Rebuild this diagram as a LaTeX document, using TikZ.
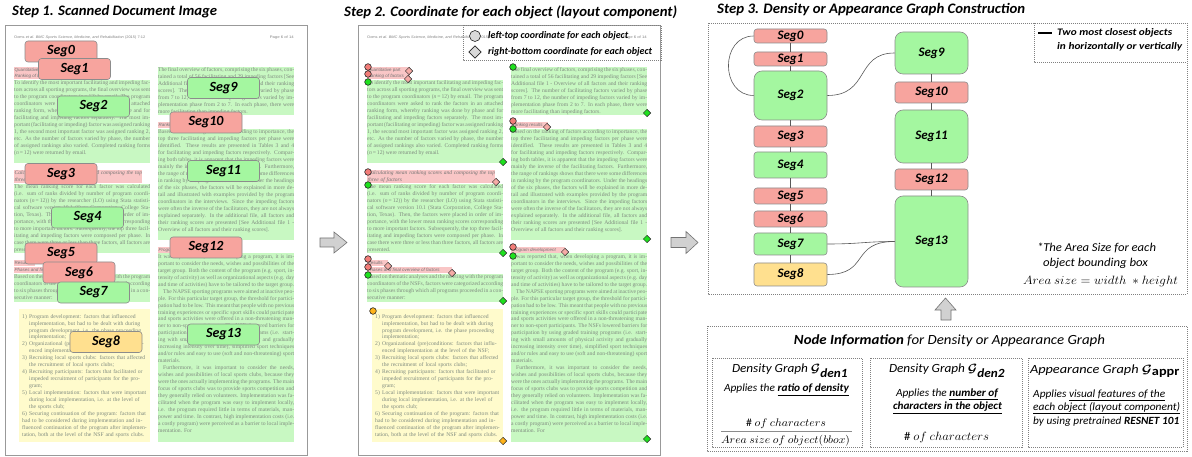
\documentclass[tikz,border=0pt]{standalone}
\usepackage{fontspec}
\setmainfont{Carlito}
\newfontfamily\docfont{Liberation Serif}
\newfontfamily\hdrfont{Liberation Sans}
\usetikzlibrary{shapes.geometric}
\definecolor{segpink}{HTML}{F7A49E}
\definecolor{seggreen}{HTML}{A4F7A0}
\definecolor{segyellow}{HTML}{FFE08F}
\definecolor{segborder}{HTML}{8C8C8C}
\definecolor{dgreen}{HTML}{C8F8C2}
\definecolor{dpink}{HTML}{F9C6C6}
\definecolor{dyellow}{HTML}{FFFBCC}
\definecolor{doctxt}{HTML}{7F8A7F}
\definecolor{mpink}{HTML}{F27C78}
\definecolor{mpinkl}{HTML}{F6ABA6}
\definecolor{mgreen}{HTML}{1FE01F}
\definecolor{morange}{HTML}{FFB31A}
\definecolor{mgray}{HTML}{D9D9D9}
\tolerance=9999
\emergencystretch=4pt
\hbadness=10000
\hfuzz=20pt
\newcommand\fitw[2]{\resizebox{#1}{\height}{#2}}

\newcommand\txtA{To identify the most important facilitating and impeding factors across all sporting programs, the final overview was sent to the program coordinators (\textit{n}\,=\,12) by email. The program coordinators were asked to rank the factors in an attached ranking form, whereby ranking was done by phase and for facilitating and impeding factors separately. The most important (facilitating or impeding) factor was assigned ranking 1, the second most important factor was assigned ranking 2, etc. As the number of factors varied by phase, the number of assigned rankings also varied. Completed ranking forms (\textit{n}\,=\,12) were returned by email.}
\newcommand\txtB{The mean ranking score for each factor was calculated (i.e. sum of ranks divided by number of program coordinators (\textit{n}\,=\,12)) by the researcher (LO) using Stata statistical software version 10.1 (Stata Corporation, College Station, Texas). Then, the factors were placed in order of importance, with the lower mean ranking scores corresponding to more important factors. Subsequently, the top three facilitating and impeding factors were composed per phase. In case there were three or less than three factors, all factors are presented.}
\newcommand\txtC{Based on thematic analyses and the meeting with the program coordinators of the NSFs, factors were categorized according to six phases through which all programs proceeded in a consecutive manner:}
\newcommand\litem[2]{\par\hangindent=7pt\hangafter=1\noindent\makebox[7pt][l]{#1}#2}
\newcommand\txtD{%
\litem{1)}{Program development: factors that influenced implementation, but had to be dealt with during program development, i.e. the phase proceeding implementation;}%
\litem{2)}{Organizational (pre)conditions: factors that influenced implementation at the level of the NSF;}%
\litem{3)}{Recruiting local sports clubs: factors that affected the recruitment of local sports clubs;}%
\litem{4)}{Recruiting participants: factors that facilitated or impeded recruitment of participants for the program;}%
\litem{5)}{Local implementation: factors that were important during local implementation, i.e. at the level of the sports club;}%
\litem{6)}{Securing continuation of the program: factors that had to be considered during implementation and influenced continuation of the program after implementation, both at the level of the NSF and sports clubs.}}
\newcommand\txtE{The final overview of factors, comprising the six phases, contained a total of 56 facilitating and 29 impeding factors [See Additional file 1 - Overview of all factors and their ranking scores]. The number of facilitating factors varied by phase from 7 to 12, the number of impeding factors varied by implementation phase from 2 to 7. In each phase, there were more facilitating than impeding factors.}
\newcommand\txtF{Based on the ranking of factors according to importance, the top three facilitating and impeding factors per phase were identified. These results are presented in Tables 3 and 4 for facilitating and impeding factors respectively. Comparing both tables, it is apparent that the impeding factors were mainly the inverse of the facilitating factors. Furthermore, the range of rankings shows that there were some differences in ranking by the program coordinators. Under the headings of the six phases, the factors will be explained in more detail and illustrated with examples provided by the program coordinators in the interviews. Since the impeding factors were often the inverse of the facilitators, they are not always explained separately. In the additional file, all factors and their ranking scores are presented [See Additional file 1 - Overview of all factors and their ranking scores].}
\newcommand\txtG{It was reported that, when developing a program, it is important to consider the needs, wishes and possibilities of the target group. Both the content of the program (e.g. sport, intensity of activity) as well as organizational aspects (e.g. day and time of activities) have to be tailored to the target group.\par
\hspace*{5pt}The NAPSE sporting programs were aimed at inactive people. For this particular target group, the threshold for participation had to be low. This meant that people with no previous training experiences or specific sport skills could participate and sports activities were offered in a non-threatening manner to non-sport participants. The NSFs lowered barriers for participation by using graded training programs (i.e. starting with small amounts of physical activity and gradually increasing intensity over time), simplified sport techniques and/or rules and easy to use (soft and non-threatening) sport materials.\par
\hspace*{5pt}Furthermore, it was important to consider the needs, wishes and possibilities of local sports clubs, because they were the ones actually implementing the programs. The main focus of sports clubs was to provide sports competition and they generally relied on volunteers. Implementation was facilitated when the program was easy to implement locally, i.e. the program required little in terms of materials, manpower and time. In contrast, high implementation costs (i.e. a costly program) were perceived as a barrier to local implementation. For}

\newcommand\docpage{%
 \draw[docframe] (5,25) rectangle (307,455.5);
 \node[hdr, anchor=west] (hdrL) at (14,37.5) {\fitw{131pt}{Ooms \textit{et al. BMC Sports Science, Medicine, and Rehabilitation} (2015) 7:12}};
 \node[hdr, anchor=east] (hdrR) at (294,37.5) {\fitw{24pt}{Page 6 of 14}};
 \fill[dpink] (14,67) rectangle (57,79);
 \fill[dgreen] (14,80) rectangle (150,163.5);
 \fill[dpink] (14,170) rectangle (142,183);
 \fill[dgreen] (14,184) rectangle (150,253);
 \fill[dpink] (14,260) rectangle (35,266);
 \fill[dpink] (14,267) rectangle (99,273);
 \fill[dgreen] (14,274) rectangle (150,302);
 \fill[dyellow] (19,309) rectangle (150,442);
 \fill[dgreen] (158,67) rectangle (294,115);
 \fill[dpink] (158,122) rectangle (195,128);
 \fill[dgreen] (158,129) rectangle (294,240);
 \fill[dpink] (158,247) rectangle (212,253);
 \fill[dgreen] (158,253.5) rectangle (294,442);
 \node[dhead] (hQ) at (14.5,67.6) {Quantitative part};
 \node[dhead] (hR) at (14.5,73.6) {\itshape Ranking of factors};
 \node[dhead, text width=128pt, font=\docfont\itshape\fontsize{5.5}{6.5}\selectfont] (hC) at (14.5,170.5) {Calculating mean ranking scores and composing the top three of factors};
 \node[dhead] (hS) at (14.5,260.6) {Results};
 \node[dhead] (hP) at (14.5,267.6) {\itshape Phases and final overview of factors};
 \node[dhead] (hRR) at (158.5,122.6) {\itshape Ranking results};
 \node[dhead] (hPD) at (158.5,247.6) {\itshape Program development};
 \node[doctext] (pA) at (14,80.8) {\txtA};
 \node[doctext] (pB) at (14,184.8) {\txtB};
 \node[doctext] (pC) at (14,274.8) {\txtC};
 \node[doctext, text width=125pt, align=left] (pD) at (22,311) {\txtD};
 \node[doctext] (pE) at (158,67.8) {\txtE};
 \node[doctext] (pF) at (158,129.8) {\txtF};
 \node[doctext] (pG) at (158,254.3) {\txtG};
}

\begin{document}
\begin{tikzpicture}[x=1pt,y=-1pt,
  docframe/.style={draw=black!40, line width=0.8pt},
  dotbox/.style={draw=black!50, line width=0.6pt, dash pattern=on 1pt off 1pt},
  hdr/.style={inner sep=0pt, font=\hdrfont\fontsize{3.6}{4}\selectfont, text=black!50},
  dhead/.style={anchor=north west, inner sep=0pt, font=\hdrfont\fontsize{4.5}{5}\selectfont, text=black!55},
  doctext/.style={anchor=north west, inner sep=0pt, text width=136pt, align=justify, text=doctxt,
     font=\docfont\fontsize{5.65}{6.95}\selectfont},
  steptitle/.style={anchor=west, inner sep=0pt, font=\bfseries\itshape\fontsize{14.5}{16}\selectfont},
  s1seg/.style={draw=segborder, line width=0.6pt, rounded corners=3pt, minimum width=72pt, minimum height=21pt, inner sep=0pt, font=\bfseries\itshape\fontsize{14}{14}\selectfont},
  gseg/.style={draw=segborder, line width=0.6pt, rounded corners=3pt, minimum width=73pt, inner sep=0pt, font=\bfseries\itshape\fontsize{13}{13}\selectfont},
  gbig/.style={gseg, rounded corners=8pt},
  edge/.style={draw=black!65, line width=0.6pt},
  mcirc/.style={circle, draw=black!85, line width=0.6pt, minimum size=6.6pt, inner sep=0pt},
  mdiam/.style={diamond, draw=black!85, line width=0.5pt, minimum size=7.5pt, inner sep=0pt},
  blockarrow/.style={fill=black!18, draw=black!55, line width=0.6pt, line join=miter},
  lgtext/.style={anchor=west, inner sep=0pt, font=\bfseries\itshape\fontsize{10}{11}\selectfont},
  info/.style={inner sep=0pt, font=\itshape\fontsize{11}{12}\selectfont}
]
\useasboundingbox (0,0) rectangle (1192,457);
\fill[white] (0,0) rectangle (1192,457);

% ---------- titles
\node[steptitle] (t1) at (12,12) {\fitw{205pt}{Step 1. Scanned Document Image}};
\node[steptitle] (t2) at (344,12) {\fitw{333pt}{Step 2. Coordinate for each object (layout component)}};
\node[steptitle] (t3) at (717,10) {\fitw{308pt}{Step 3. Density or Appearance Graph Construction}};

% ---------- Step 1 page
\begin{scope}[name prefix=A-]
\docpage
\end{scope}
\node[s1seg, fill=segpink] (s0) at (61,51.5) {Seg0};
\node[s1seg, fill=segpink] (s1) at (74.5,69) {Seg1};
\node[s1seg, fill=seggreen] (s2) at (93.5,106.5) {Seg2};
\node[s1seg, fill=seggreen] (s9) at (223.5,88) {Seg9};
\node[s1seg, fill=segpink] (s10) at (206,122.5) {Seg10};
\node[s1seg, fill=segpink] (s3) at (61,174) {Seg3};
\node[s1seg, fill=seggreen] (s11) at (223.5,171) {Seg11};
\node[s1seg, fill=seggreen] (s4) at (87.5,217.5) {Seg4};
\node[s1seg, fill=segpink] (s12) at (206,247.5) {Seg12};
\node[s1seg, fill=segpink] (s5) at (61,253.5) {Seg5};
\node[s1seg, fill=segpink] (s6) at (79,272.5) {Seg6};
\node[s1seg, fill=seggreen] (s7) at (93.5,292.5) {Seg7};
\node[s1seg, fill=segyellow] (s8) at (106,342) {Seg8};
\node[s1seg, fill=seggreen] (s13) at (223.5,334.5) {Seg13};

% ---------- arrows between panels
\draw[blockarrow] (320,238) -- (334,238) -- (334,232) -- (347,242.5) -- (334,253) -- (334,247) -- (320,247) -- cycle;
\draw[blockarrow] (671,237.5) -- (686,237.5) -- (686,231.5) -- (698,242.5) -- (686,253.5) -- (686,247.5) -- (671,247.5) -- cycle;

% ---------- Step 2 page
\begin{scope}[xshift=353pt, name prefix=B-]
\docpage
\end{scope}
% markers
\foreach \p [count=\i] in {(368,67),(368,74),(368,172),(368,259),(368,267),(513,121),(513,247)}
  \node[mcirc, fill=mpink] (pc\i) at \p {};
\foreach \p [count=\i] in {(409,71),(408,79),(496,182),(388,266),(452,273),(547,127),(565,252)}
  \node[mdiam, fill=mpinkl] (pd\i) at \p {};
\foreach \p [count=\i] in {(368,82),(368,185),(368,275),(513,67),(513,129),(513,256)}
  \node[mcirc, fill=mgreen] (gc\i) at \p {};
\foreach \p [count=\i] in {(503,162),(503,253),(503,301),(647,113),(647,239),(647,439)}
  \node[mdiam, fill=mgreen] (gd\i) at \p {};
\node[mcirc, fill=morange] (oc) at (373,311) {};
\node[mdiam, fill=morange] (od) at (503,441) {};
% legend
\draw[dotbox] (463,25) rectangle (661,60);
\node[circle, draw=black!85, line width=0.6pt, fill=mgray, minimum size=11pt, inner sep=0pt] (lgc) at (475,36) {};
\node[diamond, draw=black!85, line width=0.6pt, fill=mgray, minimum size=12.5pt, inner sep=0pt] (lgd) at (475,52) {};
\node[lgtext] (lgct) at (488,36) {\fitw{140pt}{left-top coordinate for each object}};
\node[lgtext] (lgdt) at (488,52) {\fitw{164pt}{right-bottom coordinate for each object}};

% ---------- Step 3 graph
\draw[dotbox] (708,23) rectangle (1187,294);
\draw[dotbox] (1034,23) rectangle (1187,62);
\coordinate (lgA) at (1038,33);
\coordinate (lgB) at (1052,33);
\draw[line width=1.2pt] (lgA) -- (lgB);
\node[lgtext] (lg1) at (1057,33) {\fitw{115pt}{Two most closest objects}};
\node[lgtext] (lg2) at (1057,47) {\fitw{125pt}{in horizontally or vertically}};

\node[gseg, fill=segpink, minimum height=14pt] (g0) at (790.5,36) {Seg0};
\node[gseg, fill=segpink, minimum height=14pt] (g1) at (790.5,59) {Seg1};
\node[gbig, fill=seggreen, minimum height=49pt] (g2) at (790.5,95.5) {Seg2};
\node[gseg, fill=segpink, minimum height=21pt] (g3) at (790.5,136.5) {Seg3};
\node[gseg, fill=seggreen, minimum height=26pt] (g4) at (790.5,165) {Seg4};
\node[gseg, fill=segpink, minimum height=16pt] (g5) at (790.5,196) {Seg5};
\node[gseg, fill=segpink, minimum height=16pt] (g6) at (790.5,219) {Seg6};
\node[gseg, fill=seggreen, minimum height=22pt] (g7) at (790.5,244) {Seg7};
\node[gseg, fill=segyellow, minimum height=23pt] (g8) at (790.5,274.5) {Seg8};
\node[gbig, fill=seggreen, minimum height=42pt] (g9) at (931.5,53) {Seg9};
\node[gseg, fill=segpink, minimum height=21pt] (g10) at (931.5,92.5) {Seg10};
\node[gbig, fill=seggreen, minimum height=53pt] (g11) at (931.5,136.5) {Seg11};
\node[gseg, fill=segpink, minimum height=21pt] (g12) at (931.5,179.5) {Seg12};
\node[gbig, fill=seggreen, minimum height=91pt] (g13) at (931.5,241.5) {Seg13};

\foreach \a/\b in {g0/g1,g1/g2,g2/g3,g3/g4,g4/g5,g5/g6,g6/g7,g7/g8,g9/g10,g10/g11,g11/g12,g12/g13}
  \draw[edge] (\a.south) -- (\b.north);
\draw[edge] (g0.west) .. controls (720,36) and (720,95.5) .. (g2.west);
\draw[edge] (g2.east) .. controls (870,95.5) and (855,53) .. (g9.west);
\draw[edge] (g7.east) .. controls (860,244) and (865,241.5) .. (g13.west);
\draw[edge] (g8.east) .. controls (870,274.5) and (850,241.5) .. (g13.west);

\node[inner sep=0pt, font=\itshape\fontsize{12}{13}\selectfont] (ar1) at (1096.5,248) {\fitw{119pt}{*The Area Size for each}};
\node[inner sep=0pt, font=\itshape\fontsize{12}{13}\selectfont] (ar2) at (1095.5,263) {\fitw{105pt}{object bounding box}};
\node[inner sep=0pt, font=\fontsize{12}{13}\selectfont] (ar3) at (1100.5,282) {\fitw{155pt}{$Area\ size = width\ * height$}};

% ---------- up arrow
\draw[blockarrow] (941,320) -- (941,310) -- (935,310) -- (945.5,298) -- (956,310) -- (951,310) -- (951,320) -- cycle;

% ---------- node information
\draw[dotbox] (707,326) rectangle (1187,451);
\draw[dotbox] (712,358) rectangle (862,447);
\draw[dotbox] (870,358) rectangle (1022,447);
\draw[dotbox] (1028,358) rectangle (1183,447);
\node[inner sep=0pt, font=\itshape\fontsize{14}{15}\selectfont] (nit) at (949.5,341) {\fitw{311pt}{\bfseries Node Information\mdseries\ for Density or Appearance Graph}};

\node[inner sep=0pt, font=\itshape\fontsize{12.5}{13}\selectfont] (b1t) at (790,371) {\fitw{116pt}{Density Graph {\boldmath$\mathcal{G}$}$_{\textbf{den1}}$}};
\node[info] (b1a) at (786.5,390) {\fitw{125pt}{Applies the \underline{\bfseries ratio of density}}};
\node[inner sep=0pt, font=\fontsize{11}{12}\selectfont] (b1n) at (786,423.5) {\fitw{80pt}{$\#\ of\ characters$}};
\coordinate (fr1) at (721,431);
\coordinate (fr2) at (852,431);
\draw[black!45, line width=1pt] (fr1) -- (fr2);
\node[inner sep=0pt, font=\fontsize{11}{12}\selectfont] (b1d) at (785.5,440.5) {\fitw{129pt}{$Area\ size\ of\ object(bbox)$}};

\node[inner sep=0pt, font=\itshape\fontsize{12.5}{13}\selectfont] (b2t) at (947,371) {\fitw{116pt}{Density Graph {\boldmath$\mathcal{G}$}$_{\textbf{den2}}$}};
\node[info] (b2a) at (947,394) {\fitw{102pt}{Applies the \underline{\bfseries number of}}};
\node[info] (b2b) at (947.5,408) {\fitw{109pt}{\underline{\bfseries characters in the object}}};
\node[inner sep=0pt, font=\fontsize{12}{13}\selectfont] (b2n) at (946.5,437) {\fitw{85pt}{$\#\ of\ characters$}};

\node[inner sep=0pt, font=\itshape\fontsize{12.5}{13}\selectfont] (b3t) at (1105,371) {\fitw{150pt}{Appearance Graph {\boldmath$\mathcal{G}$}$_{\textbf{\upshape appr}}$}};
\node[info, anchor=west] (b3a) at (1033,395) {\fitw{132pt}{Applies \underline{visual features of the}}};
\node[info, anchor=west] (b3b) at (1033,408) {\fitw{147pt}{\underline{each object (layout component)}}};
\node[info, anchor=west] (b3c) at (1033,422) {\fitw{146pt}{by using pretrained \textbf{RESNET 101}}};
\end{tikzpicture}
\end{document}
